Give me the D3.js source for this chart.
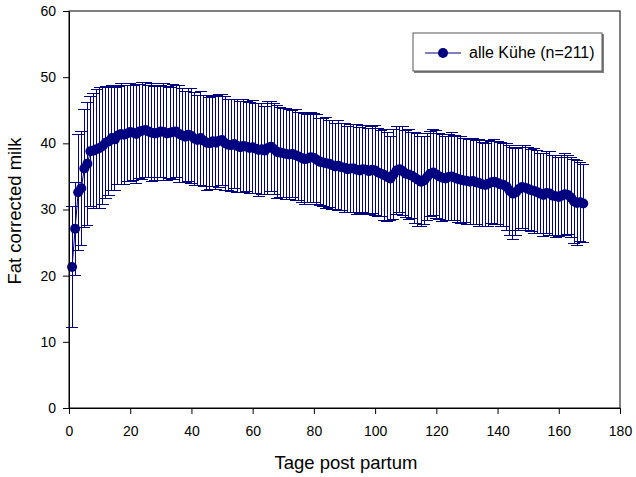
<!DOCTYPE html>
<html>
<head>
<meta charset="utf-8">
<script src="https://cdn.jsdelivr.net/npm/d3@7"></script>
<style>
  body { margin: 0; background: #fff; }
  text { font-family: Arial, "Liberation Sans", sans-serif; fill: #000; }
</style>
</head>
<body>
<svg id="chart" width="636" height="477"></svg>
<script>
// mean fat corrected milk per day post partum (days 1..168)
var meanFcm = [
  21.3, 27.1, 32.6, 33.2, 36.2, 36.9, 38.8, 38.9, 39.1, 39.3,
  39.6, 40.1, 40.3, 40.8, 40.6, 41.2, 41.4, 41.3, 41.5, 41.7,
  41.6, 41.4, 41.8, 41.9, 42.0, 41.8, 41.6, 41.5, 41.6, 41.8,
  41.7, 41.5, 41.6, 41.7, 41.8, 41.4, 41.2, 41.0, 41.3, 41.1,
  40.7, 40.5, 40.8, 40.4, 40.1, 40.0, 40.3, 40.1, 40.4, 40.5,
  40.0, 39.8, 39.7, 39.9, 39.6, 39.4, 39.6, 39.5, 39.3, 39.4,
  39.2, 39.0, 39.1, 38.9, 39.3, 39.5, 39.1, 38.7, 38.6, 38.5,
  38.4, 38.3, 38.4, 38.2, 38.0, 37.8, 37.6, 37.7, 37.9, 37.8,
  37.5, 37.2, 37.1, 37.0, 36.9, 36.7, 36.5, 36.6, 36.4, 36.3,
  36.1, 36.2, 36.2, 36.0, 35.9, 36.1, 36.0, 35.8, 36.0, 35.9,
  35.6, 35.4, 35.2, 34.9, 34.7, 35.3, 35.9, 36.1, 35.8, 35.4,
  35.3, 35.1, 34.8, 34.5, 34.2, 34.4, 34.9, 35.4, 35.6, 35.3,
  35.0, 34.8, 34.7, 34.9, 35.0, 34.8, 34.6, 34.5, 34.4, 34.3,
  34.2, 34.3, 34.1, 34.0, 33.8, 33.7, 33.9, 34.1, 34.2, 34.0,
  33.8, 33.7, 33.4, 32.8, 32.4, 32.6, 33.1, 33.4, 33.3, 33.1,
  32.9, 32.8, 32.6, 32.4, 32.2, 32.5, 32.4, 32.1, 32.0, 31.9,
  32.1, 32.3, 32.2, 31.8, 31.2, 31.0, 31.1, 30.9
];

// standard deviation per day (error bars)
var sdFcm = [
  9.2, 7.0, 8.8, 8.6, 8.9, 9.3, 8.3, 8.7, 9.0, 9.2,
  8.9, 8.5, 8.2, 7.9, 7.8, 7.4, 7.6, 7.5, 7.3, 7.4,
  7.2, 7.5, 7.1, 7.3, 7.2, 7.0, 7.4, 7.1, 7.2, 7.0,
  7.3, 7.1, 6.9, 7.2, 7.0, 7.3, 7.1, 6.9, 7.0, 7.2,
  7.0, 6.8, 7.1, 6.9, 7.2, 7.0, 6.8, 7.1, 7.0, 6.9,
  7.1, 6.9, 7.0, 6.8, 7.1, 6.9, 7.0, 6.8, 6.9, 7.0,
  6.8, 7.0, 6.9, 6.7, 7.0, 6.8, 6.9, 7.0, 6.8, 6.7,
  6.9, 6.8, 6.6, 6.9, 6.7, 6.8, 6.9, 6.6, 6.8, 6.7,
  6.8, 6.6, 6.7, 6.9, 6.6, 6.7, 6.5, 6.8, 6.6, 6.7,
  6.5, 6.7, 6.6, 6.8, 6.5, 6.6, 6.7, 6.5, 6.6, 6.8,
  6.6, 6.5, 6.9, 6.7, 6.4, 6.8, 6.6, 6.5, 6.7, 6.6,
  6.8, 6.5, 6.9, 7.0, 6.8, 6.7, 6.6, 6.4, 6.5, 6.7,
  6.5, 6.6, 6.4, 6.5, 6.7, 6.4, 6.5, 6.6, 6.3, 6.5,
  6.4, 6.5, 6.3, 6.6, 6.4, 6.3, 6.5, 6.2, 6.4, 6.3,
  6.4, 6.2, 6.5, 6.8, 7.0, 6.6, 6.3, 6.2, 6.4, 6.3,
  6.2, 6.4, 6.3, 6.1, 6.3, 6.2, 6.4, 6.1, 6.2, 6.0,
  6.1, 6.2, 6.0, 6.1, 6.3, 6.4, 6.0, 5.9
];

var xTicks = [0, 20, 40, 60, 80, 100, 120, 140, 160, 180];
var yTicks = [0, 10, 20, 30, 40, 50, 60];
var seriesName = 'alle K\u00fche (n=211)';

var navy = '#000080';
var svg = d3.select('#chart');
var margin = {left: 69, right: 16, top: 11, bottom: 69};
var width = 636 - margin.left - margin.right;
var height = 477 - margin.top - margin.bottom;

var x = d3.scaleLinear().domain([0, 180]).range([0, width]);
var y = d3.scaleLinear().domain([0, 60]).range([height, 0]);

var data = meanFcm.map(function(m, i) {
  return {day: i + 1, mean: m, sd: sdFcm[i]};
});

var g = svg.append('g')
  .attr('transform', 'translate(' + margin.left + ',' + margin.top + ')');

// frame (top & right)
g.append('rect')
  .attr('x', 0).attr('y', 0)
  .attr('width', width).attr('height', height)
  .attr('fill', 'none')
  .attr('stroke', '#000')
  .attr('stroke-width', 1);

// error bars
var capHalf = 6;
var bars = g.append('g').attr('class', 'error-bars')
  .attr('stroke', navy)
  .attr('stroke-width', 1)
  .attr('shape-rendering', 'crispEdges')
  .attr('fill', 'none');

bars.selectAll('line.v')
  .data(data)
  .enter()
  .append('line')
  .attr('class', 'v')
  .attr('x1', function(d) { return x(d.day); })
  .attr('x2', function(d) { return x(d.day); })
  .attr('y1', function(d) { return y(d.mean - d.sd); })
  .attr('y2', function(d) { return y(d.mean + d.sd); });

bars.selectAll('line.top')
  .data(data)
  .enter()
  .append('line')
  .attr('class', 'top')
  .attr('x1', function(d) { return x(d.day) - capHalf; })
  .attr('x2', function(d) { return x(d.day) + capHalf; })
  .attr('y1', function(d) { return y(d.mean + d.sd); })
  .attr('y2', function(d) { return y(d.mean + d.sd); });

bars.selectAll('line.bottom')
  .data(data)
  .enter()
  .append('line')
  .attr('class', 'bottom')
  .attr('x1', function(d) { return x(d.day) - capHalf; })
  .attr('x2', function(d) { return x(d.day) + capHalf; })
  .attr('y1', function(d) { return y(d.mean - d.sd); })
  .attr('y2', function(d) { return y(d.mean - d.sd); });

// mean line + markers
var line = d3.line()
  .x(function(d) { return x(d.day); })
  .y(function(d) { return y(d.mean); });

g.append('path')
  .datum(data)
  .attr('d', line)
  .attr('fill', 'none')
  .attr('stroke', navy)
  .attr('stroke-width', 1);

g.selectAll('circle.pt')
  .data(data)
  .enter()
  .append('circle')
  .attr('class', 'pt')
  .attr('cx', function(d) { return x(d.day); })
  .attr('cy', function(d) { return y(d.mean); })
  .attr('r', 5)
  .attr('fill', navy);

// axes
var xAxis = g.append('g')
  .attr('transform', 'translate(0,' + height + ')')
  .call(d3.axisBottom(x).tickValues(xTicks).tickSizeInner(6).tickSizeOuter(0).tickPadding(12));
var yAxis = g.append('g')
  .call(d3.axisLeft(y).tickValues(yTicks).tickSizeInner(6).tickSizeOuter(0).tickPadding(7));

[xAxis, yAxis].forEach(function(ax) {
  ax.select('.domain').attr('stroke', '#000');
  ax.selectAll('.tick line').attr('stroke', '#000');
  ax.selectAll('.tick text')
    .style('font-family', 'Arial, "Liberation Sans", sans-serif')
    .style('font-size', '14px')
    .attr('fill', '#000');
});

// axis titles
svg.append('text')
  .attr('x', 346)
  .attr('y', 469)
  .attr('text-anchor', 'middle')
  .style('font-size', '18.5px')
  .text('Tage post partum');

svg.append('text')
  .attr('transform', 'translate(21,211) rotate(-90)')
  .attr('text-anchor', 'middle')
  .style('font-size', '18.5px')
  .text('Fat corrected milk');

// legend
var legend = svg.append('g').attr('transform', 'translate(413,33)');
legend.append('rect')
  .attr('x', 1).attr('y', 1)
  .attr('width', 190).attr('height', 39)
  .attr('fill', '#808080');
legend.append('rect')
  .attr('width', 189).attr('height', 38)
  .attr('fill', '#fff')
  .attr('stroke', '#555')
  .attr('stroke-width', 1);
legend.append('line')
  .attr('x1', 12).attr('x2', 48)
  .attr('y1', 20).attr('y2', 20)
  .attr('stroke', navy)
  .attr('stroke-width', 1);
legend.append('circle')
  .attr('cx', 30).attr('cy', 20).attr('r', 5)
  .attr('fill', navy);
legend.append('text')
  .attr('x', 56).attr('y', 25)
  .style('font-size', '16px')
  .text(seriesName);
</script>
</body>
</html>
